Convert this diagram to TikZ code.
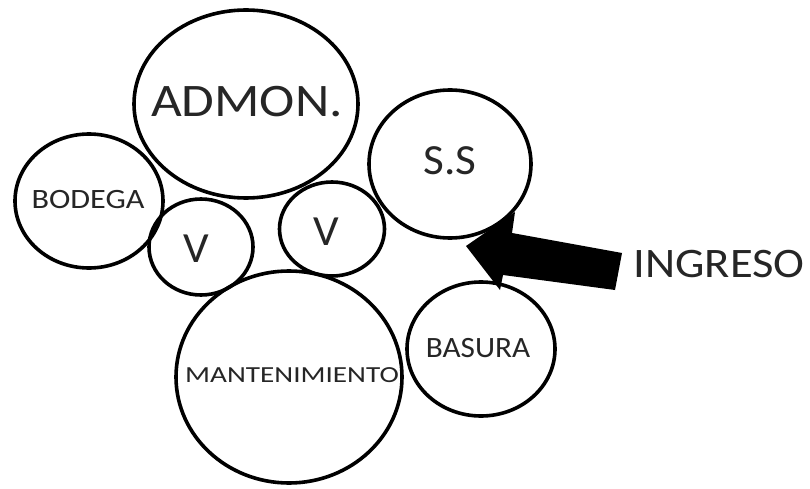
\documentclass[tikz,border=0pt]{standalone}
\usepackage{fontspec}
\setmainfont{Carlito}
\usetikzlibrary{shapes.geometric}
\tikzset{
  room/.style={ellipse, draw=black, line width=3.6pt, inner sep=0pt, outer sep=0pt},
  lbl/.style={anchor=base, inner sep=0pt, text=black!85},
}
\newcommand{\lab}[3]{\fontsize{#1}{#1}\selectfont\scalebox{#2}[1]{#3}}
\begin{document}
\begin{tikzpicture}[x=1pt,y=-1pt]
\useasboundingbox (0,0) rectangle (810,489);
\fill[white] (0,0) rectangle (810,489);
% rooms
\node[room, minimum width=224pt, minimum height=188pt] (admon) at (246,104) {};
\node[room, minimum width=148pt, minimum height=134pt] (bodega) at (89,201) {};
\node[room, minimum width=104pt, minimum height=96pt] (v1) at (201,247) {};
\node[room, minimum width=105pt, minimum height=94pt] (v2) at (332,229) {};
\node[room, minimum width=162pt, minimum height=148pt] (ss) at (450,164) {};
\node[room, minimum width=226pt, minimum height=212pt] (mant) at (289,377) {};
\node[room, minimum width=148pt, minimum height=134pt] (basura) at (481,349) {};
% labels
\node[lbl] (tadmon) at (247,117) {\lab{46.6}{1.14}{ADMON.}};
\node[lbl] (tbodega) at (88,208) {\lab{28}{1.15}{BODEGA}};
\node[lbl] (tv1) at (196,262) {\lab{43}{1.05}{V}};
\node[lbl] (tv2) at (326,245) {\lab{43}{1.05}{V}};
\node[lbl] (tss) at (450,175) {\lab{43}{1.05}{S.S}};
\node[lbl] (tmant) at (292,382) {\lab{23}{1.27}{MANTENIMIENTO}};
\node[lbl] (tbasura) at (478,357) {\lab{29.5}{1.06}{BASURA}};
\node[lbl] (tingreso) at (719,277) {\lab{42}{1.11}{INGRESO}};
% arrow
\coordinate (tip) at (466,246);
\fill[black] (tip) -- (515,212) -- (512,233) -- (622,253) -- (615,290) -- (503,275) -- (500,290) -- cycle;
\end{tikzpicture}
\end{document}
